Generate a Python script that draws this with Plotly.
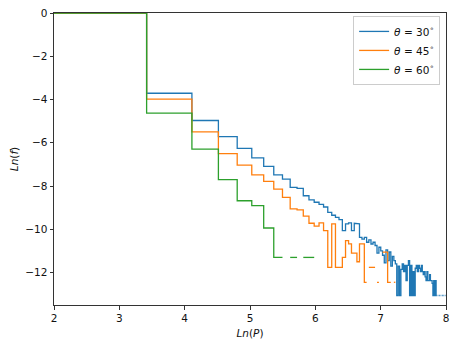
import numpy as np
import plotly.graph_objects as go

# histogram bins in P (width 30.5), first bin starts off the left of the axis
bin_width = 30.5
n_bins = 97
P_edges = np.concatenate([[1.0], bin_width * np.arange(1, n_bins + 1)])

# ln(f) per bin, None = empty bin
lnf_30 = [
    0, -3.71, -4.97, -5.72, -6.26, -6.70, -7.09, -7.48, -7.68, -8.06,
    -8.11, -8.45, -8.64, -8.75, -8.85, -8.97, -9.22, -9.35, -9.45, -9.55,
    -10.06, -9.75, -9.70, -10.06, -9.72, -9.75, -10.37, -10.45, -10.37, -10.60,
    -10.49, -10.68, -10.60, -10.75, -11.10, -10.83, -11.00, -11.20, -11.55, -10.95,
    -11.45, -11.05, -11.70, -11.25, -11.45, -11.60, -13.06, -11.70, -13.06, -11.85,
    -11.60, -11.96, -11.67, -12.37, -11.67, -11.45, -13.06, -11.67, -13.06, -11.96,
    -13.06, -11.80, -11.67, -11.96, -11.67, -11.80, -11.96, -11.67, -11.96, -12.10,
    -11.96, -12.20, -12.37, -11.96, -12.37, -12.37, -12.10, -12.37, -12.37, -12.50,
    -13.06, -12.37, -13.06, -12.37, -13.06, None, -13.06, None, -13.06, None,
    -13.06, None, -13.06, None, -13.06, None, -13.06,
]
lnf_45 = [
    0, -3.98, -5.50, -6.50, -7.03, -7.48, -7.78, -8.14, -8.52, -9.06,
    -9.10, -9.39, -9.72, -9.85, -9.70, -10.06, -11.76, -9.75, -11.76, -11.76,
    -11.30, -10.52, -10.67, -11.10, -11.10, -11.50, -10.67, -10.67, -12.45, None,
    -11.76, -11.76, -11.76, None, -12.45, None, None, -11.06, -11.06, -11.06,
    -12.45, -12.45, None, None, -12.45,
]
lnf_60 = [
    0, -4.63, -6.29, -7.70, -8.68, -8.91, -9.94, -11.30, None, -11.30,
    None, -11.30, -11.30,
]

series = [
    ("<i>θ</i> = 30<sup>∘</sup>", lnf_30, "#1f77b4"),
    ("<i>θ</i> = 45<sup>∘</sup>", lnf_45, "#ff7f0e"),
    ("<i>θ</i> = 60<sup>∘</sup>", lnf_60, "#2ca02c"),
]

lnP = np.log(P_edges)


def step_xy(vals):
    xs, ys = [], []
    for i, v in enumerate(vals):
        if v is None:
            xs.append(None); ys.append(None)
            continue
        xs += [lnP[i], lnP[i + 1]]
        ys += [v, v]
    return xs, ys


fig = go.Figure()
for name, vals, color in series:
    xs, ys = step_xy(vals)
    fig.add_trace(go.Scatter(
        x=xs, y=ys, mode="lines", name=name,
        line=dict(color=color, width=1.3),
        connectgaps=False,
    ))

axis_common = dict(
    showline=True, linecolor="#333", linewidth=1, mirror=True,
    ticks="outside", ticklen=3.5, tickcolor="#333", tickwidth=1,
    showgrid=False, zeroline=False, automargin=False,
    ticklabeloverflow="allow",
    tickfont=dict(family="DejaVu Sans", size=10.5, color="#111"),
)

# the page body adds an 8px offset, so the figure is 8px smaller than the window
fig.update_layout(
    width=450, height=338,
    margin=dict(l=46, r=12, t=5, b=41, autoexpand=False),
    paper_bgcolor="white", plot_bgcolor="white",
    font=dict(family="DejaVu Sans", size=10, color="#111"),
    xaxis=dict(range=[2, 8], dtick=1,
               title=dict(text="<i>Ln</i>(<i>P</i>)", standoff=6,
                          font=dict(size=10.5)),
               **axis_common),
    yaxis=dict(range=[-13.5, 0], tickvals=[0, -2, -4, -6, -8, -10, -12],
               title=dict(text="<i>Ln</i>(<i>f</i>)", standoff=14,
                          font=dict(size=10.5)),
               **axis_common),
    legend=dict(x=0.985, y=0.99, xanchor="right", yanchor="top",
                bgcolor="rgba(255,255,255,0.8)", bordercolor="#ccc",
                borderwidth=1, font=dict(size=10.5), tracegroupgap=0,
                itemwidth=30),
    showlegend=True,
)

fig.write_html("out.html")
